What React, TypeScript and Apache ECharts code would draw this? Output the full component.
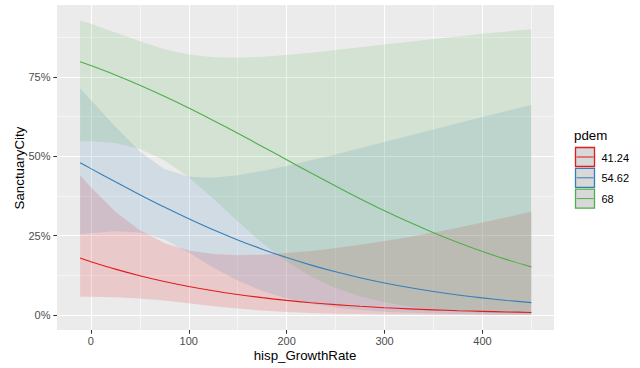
import React, { useEffect, useRef } from "react";
import * as echarts from "echarts";

// x grid of fitted values (hisp_GrowthRate)
const xs = [-11, 0, 25, 50, 75, 100, 125, 150, 175, 200, 225, 250, 275, 300, 325, 350, 375, 400, 425, 450];

// pdem = 41.24
const redFit = [0.1795, 0.1681, 0.1446, 0.1238, 0.1056, 0.0899, 0.0763, 0.0646, 0.0546, 0.046, 0.0388, 0.0326, 0.0274, 0.023, 0.0193, 0.0162, 0.0136, 0.0114, 0.0096, 0.008];
const redLow = [0.0572, 0.0572, 0.0559, 0.052, 0.0454, 0.0368, 0.0279, 0.0202, 0.014, 0.0095, 0.0064, 0.0042, 0.0028, 0.0018, 0.0012, 0.0008, 0.0005, 0.0003, 0.0002, 0.0001];
const redHigh = [0.4408, 0.4023, 0.3254, 0.2668, 0.2269, 0.2033, 0.1919, 0.1882, 0.19, 0.1951, 0.2018, 0.2108, 0.2211, 0.2331, 0.246, 0.2602, 0.2753, 0.2913, 0.3083, 0.326];

// pdem = 54.62
const blueFit = [0.48, 0.4613, 0.4197, 0.3792, 0.3401, 0.3032, 0.2685, 0.2367, 0.2074, 0.1809, 0.1572, 0.136, 0.1173, 0.1008, 0.0865, 0.074, 0.0632, 0.0539, 0.0459, 0.039];
const blueLow = [0.2548, 0.2587, 0.2639, 0.2596, 0.2376, 0.197, 0.15, 0.1088, 0.0761, 0.0522, 0.0353, 0.0236, 0.0157, 0.0104, 0.0069, 0.0045, 0.003, 0.002, 0.0013, 0.0008];
const blueHigh = [0.7136, 0.6777, 0.5934, 0.5155, 0.4601, 0.4356, 0.4327, 0.4405, 0.4536, 0.4698, 0.4875, 0.506, 0.5255, 0.5449, 0.5649, 0.5847, 0.6044, 0.6239, 0.6431, 0.6622];

// pdem = 68
const greenFit = [0.7982, 0.786, 0.7564, 0.7242, 0.6893, 0.6523, 0.6132, 0.5727, 0.5312, 0.4893, 0.4474, 0.4064, 0.3666, 0.3285, 0.2927, 0.2592, 0.2283, 0.2, 0.1745, 0.1516];
const greenLow = [0.5476, 0.5479, 0.5421, 0.5235, 0.488, 0.4341, 0.367, 0.2953, 0.227, 0.1683, 0.1209, 0.0849, 0.0585, 0.0398, 0.0269, 0.018, 0.012, 0.008, 0.0053, 0.0035];
const greenHigh = [0.928, 0.9176, 0.8906, 0.8625, 0.8378, 0.821, 0.8126, 0.811, 0.8138, 0.8193, 0.8267, 0.8348, 0.8435, 0.8522, 0.8612, 0.8697, 0.878, 0.886, 0.8936, 0.9009];

const groupNames = ["41.24", "54.62", "68"];
const groupColors = ["#E41A1C", "#377EB8", "#4DAF4A"];
const groupFills = ["rgba(228,26,28,0.16)", "rgba(55,126,184,0.15)", "rgba(77,175,74,0.15)"];

const xMajor = [0, 100, 200, 300, 400];
const xMinor = [50, 150, 250, 350, 450];
const yMajor = [0, 0.25, 0.5, 0.75];
const yMinor = [0.125, 0.375, 0.625, 0.875];

const FONT = "Liberation Sans, Arial, Helvetica, sans-serif";

export default function App() {
  const ref = useRef<HTMLDivElement>(null);

  useEffect(() => {
    if (!ref.current) return;
    const chart = echarts.init(ref.current, undefined, { renderer: "svg" });

    const fits = [redFit, blueFit, greenFit];
    const lows = [redLow, blueLow, greenLow];
    const highs = [redHigh, blueHigh, greenHigh];

    const ribbonSeries = groupNames.map((name, g) => ({
      type: "custom",
      name: name + " ribbon",
      xAxisIndex: 0,
      yAxisIndex: 0,
      silent: true,
      z: 2,
      data: [[xs[0], lows[g][0]]],
      renderItem: (_params: any, api: any) => {
        const pts: number[][] = [];
        for (let i = 0; i < xs.length; i++) pts.push(api.coord([xs[i], highs[g][i]]));
        for (let i = xs.length - 1; i >= 0; i--) pts.push(api.coord([xs[i], lows[g][i]]));
        return {
          type: "polygon",
          shape: { points: pts },
          style: { fill: groupFills[g], stroke: "none" },
        };
      },
    }));

    const lineSeries = groupNames.map((name, g) => ({
      type: "line",
      name,
      xAxisIndex: 0,
      yAxisIndex: 0,
      z: 5,
      showSymbol: false,
      smooth: 0.3,
      silent: true,
      lineStyle: { color: groupColors[g], width: 1.1 },
      data: xs.map((x, i) => [x, fits[g][i]]),
    }));

    const legendTop = 147.5;
    const legendStep = 20.8;
    const legendEls: any[] = [
      {
        type: "text",
        x: 574,
        y: 135,
        style: {
          text: "pdem",
          fontSize: 13.3,
          fontFamily: FONT,
          fill: "#000",
          align: "left",
          verticalAlign: "middle",
          textAlign: "left",
          textVerticalAlign: "middle",
        },
      },
    ];
    groupNames.forEach((name, g) => {
      const y0 = legendTop + g * legendStep;
      legendEls.push({
        type: "rect",
        shape: { x: 575.5, y: y0, width: 19, height: 19 },
        style: { fill: "#D8D8D8", stroke: groupColors[g], lineWidth: 1.3 },
      });
      legendEls.push({
        type: "line",
        shape: { x1: 576.5, y1: y0 + 9.5, x2: 593.5, y2: y0 + 9.5 },
        style: { stroke: groupColors[g], lineWidth: 1 },
      });
      legendEls.push({
        type: "text",
        x: 601.5,
        y: y0 + 10,
        style: {
          text: name,
          fontSize: 11,
          fontFamily: FONT,
          fill: "#000",
          align: "left",
          verticalAlign: "middle",
          textAlign: "left",
          textVerticalAlign: "middle",
        },
      });
    });

    const xMin = -34.6;
    const xMax = 473.1;
    const yMin = -0.0473;
    const yMax = 0.977;

    chart.setOption({
      animation: false,
      backgroundColor: "#FFFFFF",
      grid: {
        left: 57,
        top: 5,
        width: 497,
        height: 325,
        show: true,
        backgroundColor: "#EBEBEB",
        borderWidth: 0,
      },
      xAxis: [
        {
          type: "value",
          min: xMin,
          max: xMax,
          position: "bottom",
          axisLine: { show: false, onZero: false },
          axisTick: {
            show: true,
            length: 3.7,
            customValues: xMajor,
            lineStyle: { color: "#333333", width: 1.07 },
          },
          axisLabel: {
            customValues: xMajor,
            margin: 5,
            color: "#4D4D4D",
            fontSize: 11,
            fontFamily: FONT,
          },
          splitLine: { show: true, lineStyle: { color: "#FFFFFF", width: 1.1 } },
          z: 1,
        },
        {
          type: "value",
          min: xMin,
          max: xMax,
          position: "bottom",
          axisLine: { show: false, onZero: false },
          axisTick: { show: false, customValues: xMinor },
          axisLabel: { show: false, customValues: xMinor },
          splitLine: { show: true, lineStyle: { color: "#FFFFFF", width: 0.55 } },
          z: 1,
        },
      ],
      yAxis: [
        {
          type: "value",
          min: yMin,
          max: yMax,
          position: "left",
          axisLine: { show: false, onZero: false },
          axisTick: {
            show: true,
            length: 3.7,
            customValues: yMajor,
            lineStyle: { color: "#333333", width: 1.07 },
          },
          axisLabel: {
            customValues: yMajor,
            margin: 6.5,
            color: "#4D4D4D",
            fontSize: 11,
            fontFamily: FONT,
            formatter: (v: number) => `${Math.round(v * 100)}%`,
          },
          splitLine: { show: true, lineStyle: { color: "#FFFFFF", width: 1.1 } },
          z: 1,
        },
        {
          type: "value",
          min: yMin,
          max: yMax,
          position: "left",
          axisLine: { show: false, onZero: false },
          axisTick: { show: false, customValues: yMinor },
          axisLabel: { show: false, customValues: yMinor },
          splitLine: { show: true, lineStyle: { color: "#FFFFFF", width: 0.55 } },
          z: 1,
        },
      ],
      graphic: [
        {
          type: "text",
          x: 305,
          y: 355.5,
          style: {
            text: "hisp_GrowthRate",
            fontSize: 13.3,
            fontFamily: FONT,
            fill: "#000",
            align: "center",
            verticalAlign: "middle",
            textAlign: "center",
            textVerticalAlign: "middle",
          },
        },
        {
          type: "text",
          x: 19,
          y: 168,
          rotation: Math.PI / 2,
          style: {
            text: "SanctuaryCity",
            fontSize: 13.3,
            fontFamily: FONT,
            fill: "#000",
            align: "center",
            verticalAlign: "middle",
            textAlign: "center",
            textVerticalAlign: "middle",
          },
        },
        ...legendEls,
      ],
      series: [...ribbonSeries, ...lineSeries],
    });

    return () => {
      chart.dispose();
    };
  }, []);

  return (
    <div
      ref={ref}
      style={{ position: "absolute", left: 0, top: 0, width: 640, height: 368 }}
    />
  );
}
